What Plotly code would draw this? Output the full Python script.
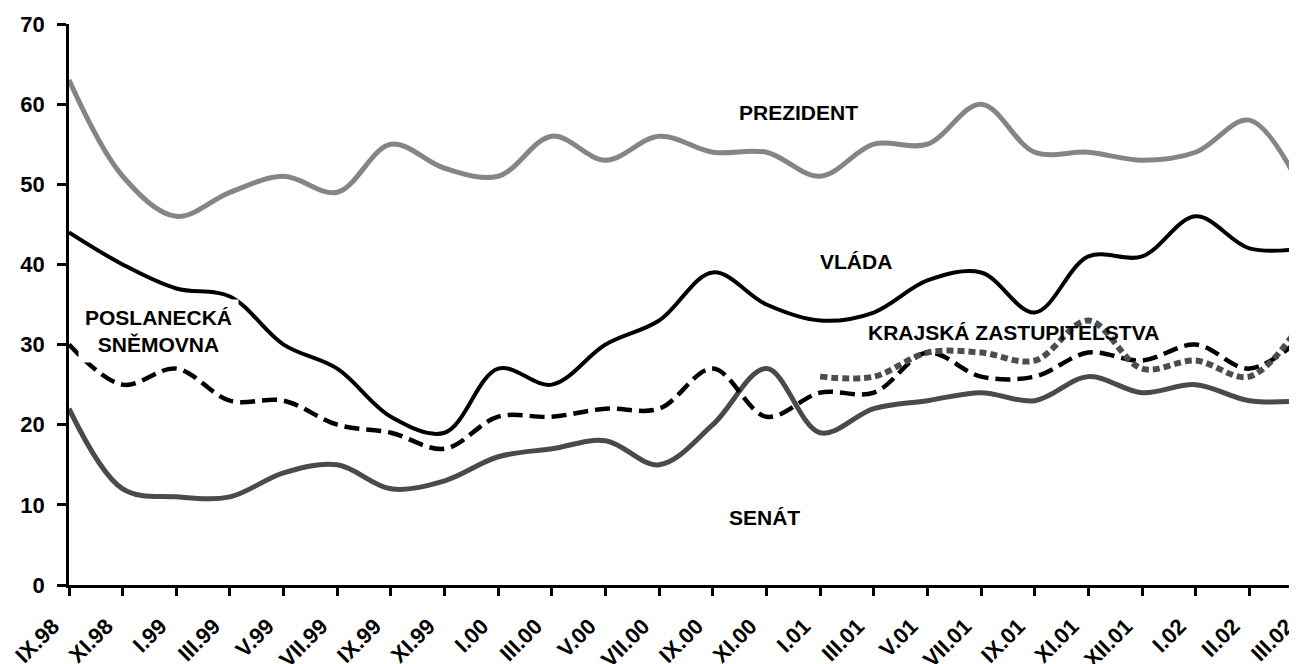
import plotly.graph_objects as go

categories = ["IX.98", "XI.98", "I.99", "III.99", "V.99", "VII.99", "IX.99", "XI.99",
              "I.00", "III.00", "V.00", "VII.00", "IX.00", "XI.00", "I.01", "III.01",
              "V.01", "VII.01", "IX.01", "XI.01", "XII.01", "I.02", "II.02", "III.02"]

prezident = [63, 51, 46, 49, 51, 49, 55, 52, 51, 56, 53, 56, 54, 54, 51, 55,
             55, 60, 54, 54, 53, 54, 58, 49]
vlada = [44, 40, 37, 36, 30, 27, 21, 19, 27, 25, 30, 33, 39, 35, 33, 34,
         38, 39, 34, 41, 41, 46, 42, 42]
poslanecka = [30, 25, 27, 23, 23, 20, 19, 17, 21, 21, 22, 22, 27, 21, 24, 24,
              29, 26, 26, 29, 28, 30, 27, 31]
krajska = [None, None, None, None, None, None, None, None, None, None, None, None,
           None, None, 26, 26, 29, 29, 28, 33, 27, 28, 26, 33]
senat = [22, 12, 11, 11, 14, 15, 12, 13, 16, 17, 18, 15, 20, 27, 19, 22,
         23, 24, 23, 26, 24, 25, 23, 23]

FONT = "Arial, 'Liberation Sans', sans-serif"

fig = go.Figure()
fig.add_trace(go.Scatter(x=categories, y=prezident, mode="lines", name="PREZIDENT",
                         line=dict(color="#858585", width=5, shape="spline", smoothing=1)))
fig.add_trace(go.Scatter(x=categories, y=senat, mode="lines", name="SENÁT",
                         line=dict(color="#4a4a4a", width=5, shape="spline", smoothing=1)))
fig.add_trace(go.Scatter(x=categories, y=poslanecka, mode="lines", name="POSLANECKÁ SNĚMOVNA",
                         line=dict(color="#000000", width=4.5, dash="15px,7px",
                                   shape="spline", smoothing=1)))
fig.add_trace(go.Scatter(x=categories, y=vlada, mode="lines", name="VLÁDA",
                         line=dict(color="#000000", width=4, shape="spline", smoothing=1)))
fig.add_trace(go.Scatter(x=categories, y=krajska, mode="lines", name="KRAJSKÁ ZASTUPITELSTVA",
                         line=dict(color="#4d4d4d", width=6, dash="7px,4px",
                                   shape="spline", smoothing=1)))

lab = dict(family=FONT, size=21, color="black", weight="bold")

fig.add_annotation(x=13.59, y=59.0, text="PREZIDENT", showarrow=False, font=lab)
fig.add_annotation(x=14.67, y=40.4, text="VLÁDA", showarrow=False, font=lab)
fig.add_annotation(x=17.61, y=31.5, text="KRAJSKÁ ZASTUPITELSTVA", showarrow=False, font=lab)
fig.add_annotation(x=12.97, y=8.4, text="SENÁT", showarrow=False, font=lab)
fig.add_annotation(x=1.66, y=31.7, text="POSLANECKÁ<br>SNĚMOVNA", showarrow=False,
                   font=lab, bgcolor="white", borderpad=6)

ytickfont = dict(family=FONT, size=22, color="black", weight="bold")
xtickfont = dict(family=FONT, size=22, color="black", weight="bold")

fig.update_layout(
    width=1297, height=664,
    margin=dict(l=61, r=2, t=16, b=87),
    plot_bgcolor="white", paper_bgcolor="white",
    showlegend=False,
    hovermode=False,
    xaxis=dict(type="category", range=[0, 23], showgrid=False, zeroline=False,
               showline=True, linecolor="black", linewidth=2.5,
               ticks="outside", ticklen=8, tickwidth=2.5, tickcolor="black",
               tickangle=-45, tickfont=xtickfont, ticklabelshift=-16,
               ticklabelstandoff=9, automargin=False),
    yaxis=dict(range=[0, 70], dtick=10, showgrid=False, zeroline=False,
               showline=True, linecolor="black", linewidth=2.5,
               ticks="outside", ticklen=9, tickwidth=2.5, tickcolor="black",
               tickfont=ytickfont, ticklabelstandoff=8, automargin=False),
    xaxis2=dict(overlaying="x", anchor="y", side="bottom", range=[0, 23], dtick=1,
                showgrid=False, zeroline=False, showline=False, showticklabels=False,
                ticks="inside", ticklen=8, tickwidth=2.5, tickcolor="black"),
    yaxis2=dict(overlaying="y", anchor="x", side="left", range=[0, 70], dtick=10,
                showgrid=False, zeroline=False, showline=False, showticklabels=False,
                ticks="inside", ticklen=8, tickwidth=2.5, tickcolor="black"),
)

fig.write_html("out.html")
